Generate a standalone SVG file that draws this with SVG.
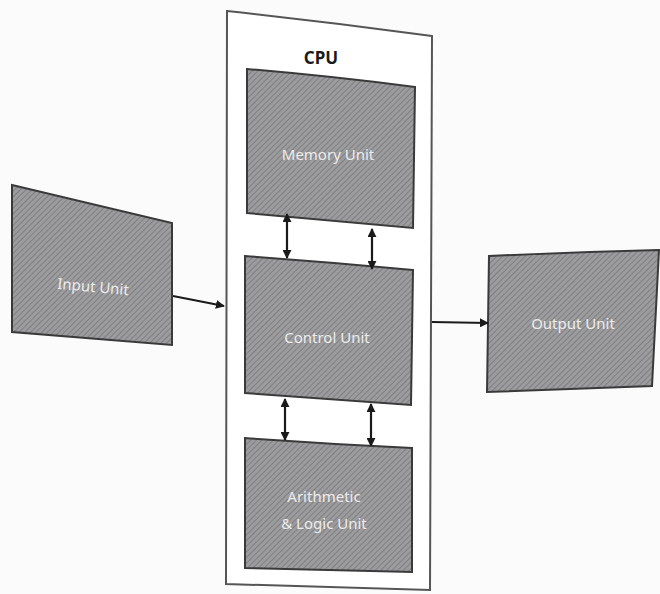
<svg xmlns="http://www.w3.org/2000/svg" width="660" height="594" viewBox="0 0 660 594">
  <defs>
    <pattern id="hatch" width="4" height="4" patternUnits="userSpaceOnUse" patternTransform="rotate(45)">
      <rect width="4" height="4" fill="#9c9c9e"/>
      <line x1="0" y1="0" x2="0" y2="4" stroke="#78787a" stroke-width="1.6"/>
    </pattern>
    <marker id="ah" viewBox="0 0 10 10" refX="9" refY="5" markerWidth="9" markerHeight="9" markerUnits="userSpaceOnUse" orient="auto-start-reverse">
      <path d="M0,0 L10,5 L0,10 z" fill="#1a1a1a"/>
    </marker>
    <style>
      .unit { fill: url(#hatch); stroke: #3a3a3a; stroke-width: 2; }
      .lbl { font-family: "Noto Sans", "Open Sans", sans-serif; font-size: 15px; fill: #ececec; text-anchor: middle; }
      .conn { stroke: #1a1a1a; stroke-width: 2.2; fill: none; }
    </style>
  </defs>
  <rect width="660" height="594" fill="#fbfbfb"/>

  <g id="cpu">
    <path d="M227,11 Q330,22 432,36 L430,590 L226,584 Z" fill="#ffffff" stroke="#555" stroke-width="2"/>
    <text x="321" y="64" font-family="'Noto Sans', 'Open Sans', sans-serif" font-size="17" font-weight="bold" fill="#1a1a1a" text-anchor="middle">CPU</text>
  </g>

  <g id="memory-unit">
    <path class="unit" d="M247,69 Q330,76 415,87 L413,228 L247,213 Z"/>
    <text class="lbl" x="328" y="160">Memory Unit</text>
  </g>

  <g id="control-unit">
    <path class="unit" d="M245,256 Q330,262 413,270 L411,405 L245,393 Z"/>
    <text class="lbl" x="327" y="343">Control Unit</text>
  </g>

  <g id="alu">
    <path class="unit" d="M245,438 Q330,444 412,448 L412,572 L245,568 Z"/>
    <text class="lbl" x="324" y="502">Arithmetic</text>
    <text class="lbl" x="324" y="529">&amp; Logic Unit</text>
  </g>

  <g id="input-unit">
    <path class="unit" d="M12,185 L172,223 L172,345 L12,332 Z"/>
    <text class="lbl" x="93" y="292" transform="rotate(5 93 288)">Input Unit</text>
  </g>

  <g id="output-unit">
    <path class="unit" d="M489,256 Q575,252 659,250 L652,386 L487,392 Z"/>
    <text class="lbl" x="573" y="329">Output Unit</text>
  </g>

  <g id="connectors">
    <line class="conn" x1="173" y1="296" x2="224" y2="306" marker-end="url(#ah)"/>
    <line class="conn" x1="432" y1="322" x2="488" y2="323" marker-end="url(#ah)"/>
    <line class="conn" x1="287" y1="214" x2="287" y2="258" marker-start="url(#ah)" marker-end="url(#ah)"/>
    <line class="conn" x1="372" y1="229" x2="372" y2="269" marker-start="url(#ah)" marker-end="url(#ah)"/>
    <line class="conn" x1="285" y1="399" x2="285" y2="440" marker-start="url(#ah)" marker-end="url(#ah)"/>
    <line class="conn" x1="371" y1="404" x2="371" y2="446" marker-start="url(#ah)" marker-end="url(#ah)"/>
  </g>
</svg>
